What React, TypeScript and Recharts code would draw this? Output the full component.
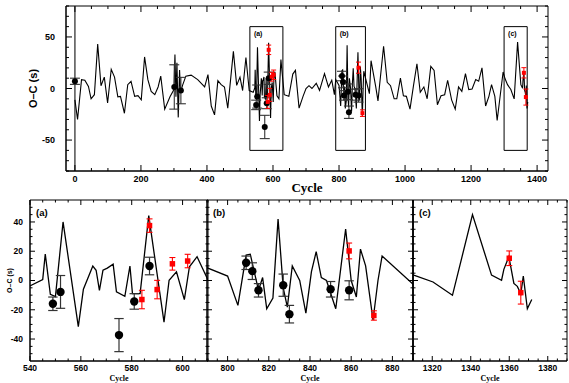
import React from "react";
import {
  ComposedChart,
  Line,
  Scatter,
  XAxis,
  YAxis,
  ErrorBar,
  ReferenceArea,
  ReferenceLine,
} from "recharts";

// model O-C curve (cycle, seconds)
const modelCycles = [
  0, 8, 20, 30, 41, 49, 59, 69, 79, 89, 99, 110, 120, 130, 138, 150, 160, 170,
  181, 191, 201, 211, 221, 231, 242, 252, 260, 272, 288, 300, 303, 306, 309,
  313, 317, 320, 326, 336, 352, 372, 393, 403, 413, 423, 433, 443, 453, 463,
  480, 490, 500, 508, 518, 528, 540, 545, 546, 548, 550, 553, 559, 561, 564.7,
  566, 567.3, 568.7, 570.4, 572.7, 574, 577.3, 579.3, 580.3, 583.3, 586.7,
  592.7, 594.7, 597.6, 600.7, 602.7, 605.7, 612, 618, 624, 634, 648, 660, 668,
  679, 691, 700, 709, 718, 731, 741, 756, 768, 778, 786, 790, 800, 805, 809,
  811, 815, 817, 819, 822, 824.5, 827, 829, 831.4, 835, 838, 840.7, 843,
  845.5, 848, 852.5, 857.3, 860, 862.5, 864.5, 867, 870.6, 873, 875, 892, 897,
  911, 918, 935, 946, 956, 967, 975, 986, 995, 1004, 1015, 1025, 1036, 1046,
  1057, 1067, 1078, 1088, 1098, 1109, 1120, 1129, 1141, 1152, 1162, 1172,
  1183, 1193, 1203, 1214, 1223, 1233, 1244, 1254, 1262, 1272, 1279, 1297, 1303,
  1310.4, 1320.4, 1330.5, 1340.9, 1350.8, 1356, 1357.2, 1359.8, 1362.4, 1364.2,
  1366, 1367.3, 1369.4, 1371.7,
];
const modelOC = [
  -11, -30, 8.6, 8, 2, -10, -6, 43, 2.7, 11, -14, 18.6, 11, -8, -7.6, -24, 3.7,
  7, -7.6, -7, -11, 30.6, 8.6, -2.8, -6, 1.5, 12, -20, -8, -1, 33, -8, 25, -28,
  18, -4, 3, 12, 13, 8.6, 1.5, 13.4, -17, -25.6, 7.6, 3.7, 1.5, -19, 36, 3, 11,
  -2, 30, -2, -3.7, 0.7, 18.1, -9.4, -11, 40, -31.5, -6, 9.9, 7, -6.7, 7.1, 8.5,
  11.2, -7.8, -10.8, 9.9, -9, -9, 44.3, -28.5, 0.2, 5.9, -13.1, 9.4, 16.3, -7,
  -10, 28, -6, -7.6, 14, 17.6, -19, -7.6, 0, 2.7, 0, 5, -1.8, 14.4, 1.5, 8, -6,
  8.7, 3, -17, 17.4, 18, -6.7, 2, -19.3, -12, 42, -5, -18.2, 9.9, 0, -22.3, 6,
  19.7, 2, 0, -19.3, 35.2, 0, -11.3, 21.4, 10, -27, 0, 16.8, -5, 27, 2, -12, 41,
  6, 2.7, -10, -10, 10, -7, -7.6, -20, 1.5, 24, -3.7, 1.5, -10, 21.5, 17.6,
  -15.7, -7, -6, 8, -11, -20, 1.5, -2.8, 14.4, -1, -0.5, 8.6, 7, 20, -17, -7.6,
  3.7, -7.6, -31, 16, 9.4, 3.7, -1, -10.1, 45, 3.7, 0.2, 7.6, 16.3, -2, -4, -9,
  3, -19.3, -13,
];

// black: older timings, red: new timings
const blackCycles = [0, 301, 321, 549, 552, 575, 581, 587, 809, 812, 815, 827, 830, 850, 859];
const blackOC = [7, 1.5, -2, -15.9, -7.8, -37.3, -14.3, 9.9, 12.1, 6.4, -6.7, -3.2, -23, -6, -6.7];
const blackErr = [3, 21.5, 12.8, 4.6, 11.2, 11.3, 5.3, 6, 4.6, 5.7, 4.6, 7.6, 6, 5.3, 6.5];

const redCycles = [584, 587, 590, 596, 602, 859, 871, 1360, 1366];
const redOC = [-13, 37.5, -6.2, 11.4, 13.3, 20.2, -23.9, 15.2, -8.3];
const redErr = [6.3, 4.6, 6.3, 4.3, 4.6, 5.4, 3.2, 5, 7.8];

const boxNames = ["(a)", "(b)", "(c)"];
const boxFrom = [530, 790, 1300];
const boxTo = [630, 880, 1370];
const panelDomains: [number, number][] = [[540, 610], [790, 890], [1310, 1390]];
const panelMajors = [[540, 560, 580, 600], [800, 820, 840, 860, 880], [1320, 1340, 1360, 1380]];

const topXMajors = [0, 200, 400, 600, 800, 1000, 1200, 1400];
const topYMajors = [-50, 0, 50];
const subYMajors = [-40, -20, 0, 20, 40];
const topXDomain: [number, number] = [-27, 1433];

const steps = (a: number, b: number, s: number) => {
  const out: number[] = [];
  for (let v = a; v <= b + 1e-9; v += s) out.push(v);
  return out;
};

const model = modelCycles.map((x, i) => ({ x, y: modelOC[i] }));
const black = blackCycles.map((x, i) => ({ x, y: blackOC[i], err: blackErr[i] }));
const red = redCycles.map((x, i) => ({ x, y: redOC[i], err: redErr[i] }));

const SANS = "'Liberation Sans', Arial, sans-serif";
const SERIF = "'Liberation Serif', 'Times New Roman', serif";

interface TickCfg {
  side: "left" | "bottom";
  majors: number[];
  span: number;
  majorLen: number;
  minorLen: number;
  labels: boolean;
  fontSize: number;
  gap: number;
}

const makeTick = (c: TickCfg) => (props: any) => {
  const { x, y, payload } = props;
  const v = payload.value;
  const isMajor = c.majors.includes(v);
  const len = isMajor ? c.majorLen : c.minorLen;
  if (c.side === "left") {
    return (
      <g>
        <line x1={x} x2={x + len} y1={y} y2={y} stroke="#000" />
        <line x1={x + c.span} x2={x + c.span - len} y1={y} y2={y} stroke="#000" />
        {c.labels && isMajor && (
          <text x={x - c.gap} y={y} dy="0.35em" textAnchor="end" fontSize={c.fontSize}
            fontWeight="bold" fontFamily={SANS} fill="#000">{v}</text>
        )}
      </g>
    );
  }
  return (
    <g>
      <line x1={x} x2={x} y1={y} y2={y - len} stroke="#000" />
      <line x1={x} x2={x} y1={y - c.span} y2={y - c.span + len} stroke="#000" />
      {c.labels && isMajor && (
        <text x={x} y={y + c.gap} textAnchor="middle" fontSize={c.fontSize}
          fontWeight="bold" fontFamily={SANS} fill="#000">{v}</text>
      )}
    </g>
  );
};

const dotShape = (r: number) => (p: any) => <circle cx={p.cx} cy={p.cy} r={r} fill="#000" />;
const squareShape = (s: number) => (p: any) => (
  <rect x={p.cx - s / 2} y={p.cy - s / 2} width={s} height={s} fill="#ff0000" />
);

function TopPanel() {
  const plotW = 482;
  const plotH = 165;
  return (
    <ComposedChart width={569} height={200} margin={{ top: 6, right: 21, bottom: 0, left: 0 }}>
      <XAxis
        dataKey="x" type="number" domain={topXDomain} allowDataOverflow
        ticks={steps(0, 1400, 50)} interval={0} height={29}
        tickSize={0} tickMargin={0} tickLine={false}
        axisLine={{ stroke: "#000" }}
        tick={makeTick({ side: "bottom", majors: topXMajors, span: plotH, majorLen: 6, minorLen: 3, labels: true, fontSize: 9, gap: 11 })}
        label={{ value: "Cycle", position: "insideBottom", offset: 8, fontSize: 13, fontWeight: "bold", fontFamily: SERIF, fill: "#000" }}
      />
      <YAxis
        dataKey="y" type="number" domain={[-80, 80]} allowDataOverflow
        ticks={steps(-80, 80, 10)} interval={0} width={66}
        tickSize={0} tickMargin={0} tickLine={false}
        axisLine={{ stroke: "#000" }}
        tick={makeTick({ side: "left", majors: topYMajors, span: plotW, majorLen: 6, minorLen: 3, labels: true, fontSize: 9, gap: 11 })}
        label={{ value: "O–C (s)", angle: -90, position: "insideLeft", offset: 33, fontSize: 11, fontWeight: "bold", fontFamily: SANS, fill: "#000", style: { textAnchor: "middle" } }}
      />
      <ReferenceArea x1={topXDomain[0]} x2={topXDomain[1]} y1={-80} y2={80} fill="none" stroke="#000" />
      {boxNames.map((n, i) => (
        <ReferenceArea key={n} x1={boxFrom[i]} x2={boxTo[i]} y1={-60} y2={60} fill="none" stroke="#000" strokeWidth={1}
          label={{ value: n, position: "insideTopLeft", offset: 4, fontSize: 7, fontWeight: "bold", fontFamily: SANS, fill: "#000" }} />
      ))}
      <ReferenceLine x={0} stroke="#444" strokeWidth={1.4} />
      <Line data={model} dataKey="y" stroke="#000" strokeWidth={1.1} dot={false} isAnimationActive={false} />
      <Scatter data={black} dataKey="y" shape={dotShape(3)} isAnimationActive={false}>
        <ErrorBar dataKey="err" direction="y" width={5} stroke="#333" strokeWidth={1.1} />
      </Scatter>
      <Scatter data={red} dataKey="y" shape={squareShape(4)} isAnimationActive={false}>
        <ErrorBar dataKey="err" direction="y" width={2.5} stroke="#ff0000" strokeWidth={1} />
      </Scatter>
    </ComposedChart>
  );
}

function SubPanel({ idx }: { idx: number }) {
  const yw = idx === 0 ? 30 : 10;
  const widths = [210, 218, 166];
  const plotW = widths[idx] - yw - 2;
  const plotH = 161;
  const [d0, d1] = panelDomains[idx];
  return (
    <ComposedChart width={widths[idx]} height={193} margin={{ top: 10, right: 2, bottom: 0, left: 0 }}>
      <XAxis
        dataKey="x" type="number" domain={[d0, d1]} allowDataOverflow
        ticks={steps(d0, d1, 5)} interval={0} height={22}
        tickSize={0} tickMargin={0} tickLine={false}
        axisLine={{ stroke: "#000" }}
        tick={makeTick({ side: "bottom", majors: panelMajors[idx], span: plotH, majorLen: 5, minorLen: 2.5, labels: true, fontSize: 8.5, gap: 10 })}
        label={{ value: "Cycle", position: "insideBottom", offset: 2, fontSize: 8, fontWeight: "bold", fontFamily: SERIF, fill: "#000" }}
      />
      <YAxis
        dataKey="y" type="number" domain={[-55, 55]} allowDataOverflow
        ticks={steps(-50, 50, 5)} interval={0} width={yw}
        tickSize={0} tickMargin={0} tickLine={false}
        axisLine={{ stroke: "#000", strokeWidth: idx === 2 ? 1.6 : 1 }}
        tick={makeTick({ side: "left", majors: subYMajors, span: plotW, majorLen: 5, minorLen: 2.5, labels: idx === 0, fontSize: 8.5, gap: 7 })}
        label={idx === 0 ? { value: "O–C (s)", angle: -90, position: "insideLeft", offset: 10, fontSize: 7, fontWeight: "bold", fontFamily: SANS, fill: "#000", style: { textAnchor: "middle" } } : undefined}
      />
      <ReferenceArea x1={d0} x2={d1} y1={-55} y2={55} fill="none" stroke="#000" />
      <Line data={model} dataKey="y" stroke="#000" strokeWidth={1.3} dot={false} isAnimationActive={false} />
      <Scatter data={black} dataKey="y" shape={dotShape(4.2)} isAnimationActive={false}>
        <ErrorBar dataKey="err" direction="y" width={4.7} stroke="#333" strokeWidth={1.2} />
      </Scatter>
      <Scatter data={red} dataKey="y" shape={squareShape(5.5)} isAnimationActive={false}>
        <ErrorBar dataKey="err" direction="y" width={3} stroke="#ff0000" strokeWidth={1.1} />
      </Scatter>
    </ComposedChart>
  );
}

const subLeft = [0, 197, 403];
const subLabelLeft = [36, 213, 419];

export default function App() {
  return (
    <div style={{ position: "absolute", left: 0, top: 0, width: 569, height: 383, background: "#fff" }}>
      <div style={{ position: "absolute", left: 0, top: 0 }}>
        <TopPanel />
      </div>
      {[0, 1, 2].map((i) => (
        <div key={i} style={{ position: "absolute", left: subLeft[i], top: 190 }}>
          <SubPanel idx={i} />
        </div>
      ))}
      {boxNames.map((n, i) => (
        <div key={n} style={{ position: "absolute", left: subLabelLeft[i], top: 207, fontFamily: SANS, fontWeight: "bold", fontSize: 9.5, lineHeight: "12px" }}>
          {n}
        </div>
      ))}
    </div>
  );
}
